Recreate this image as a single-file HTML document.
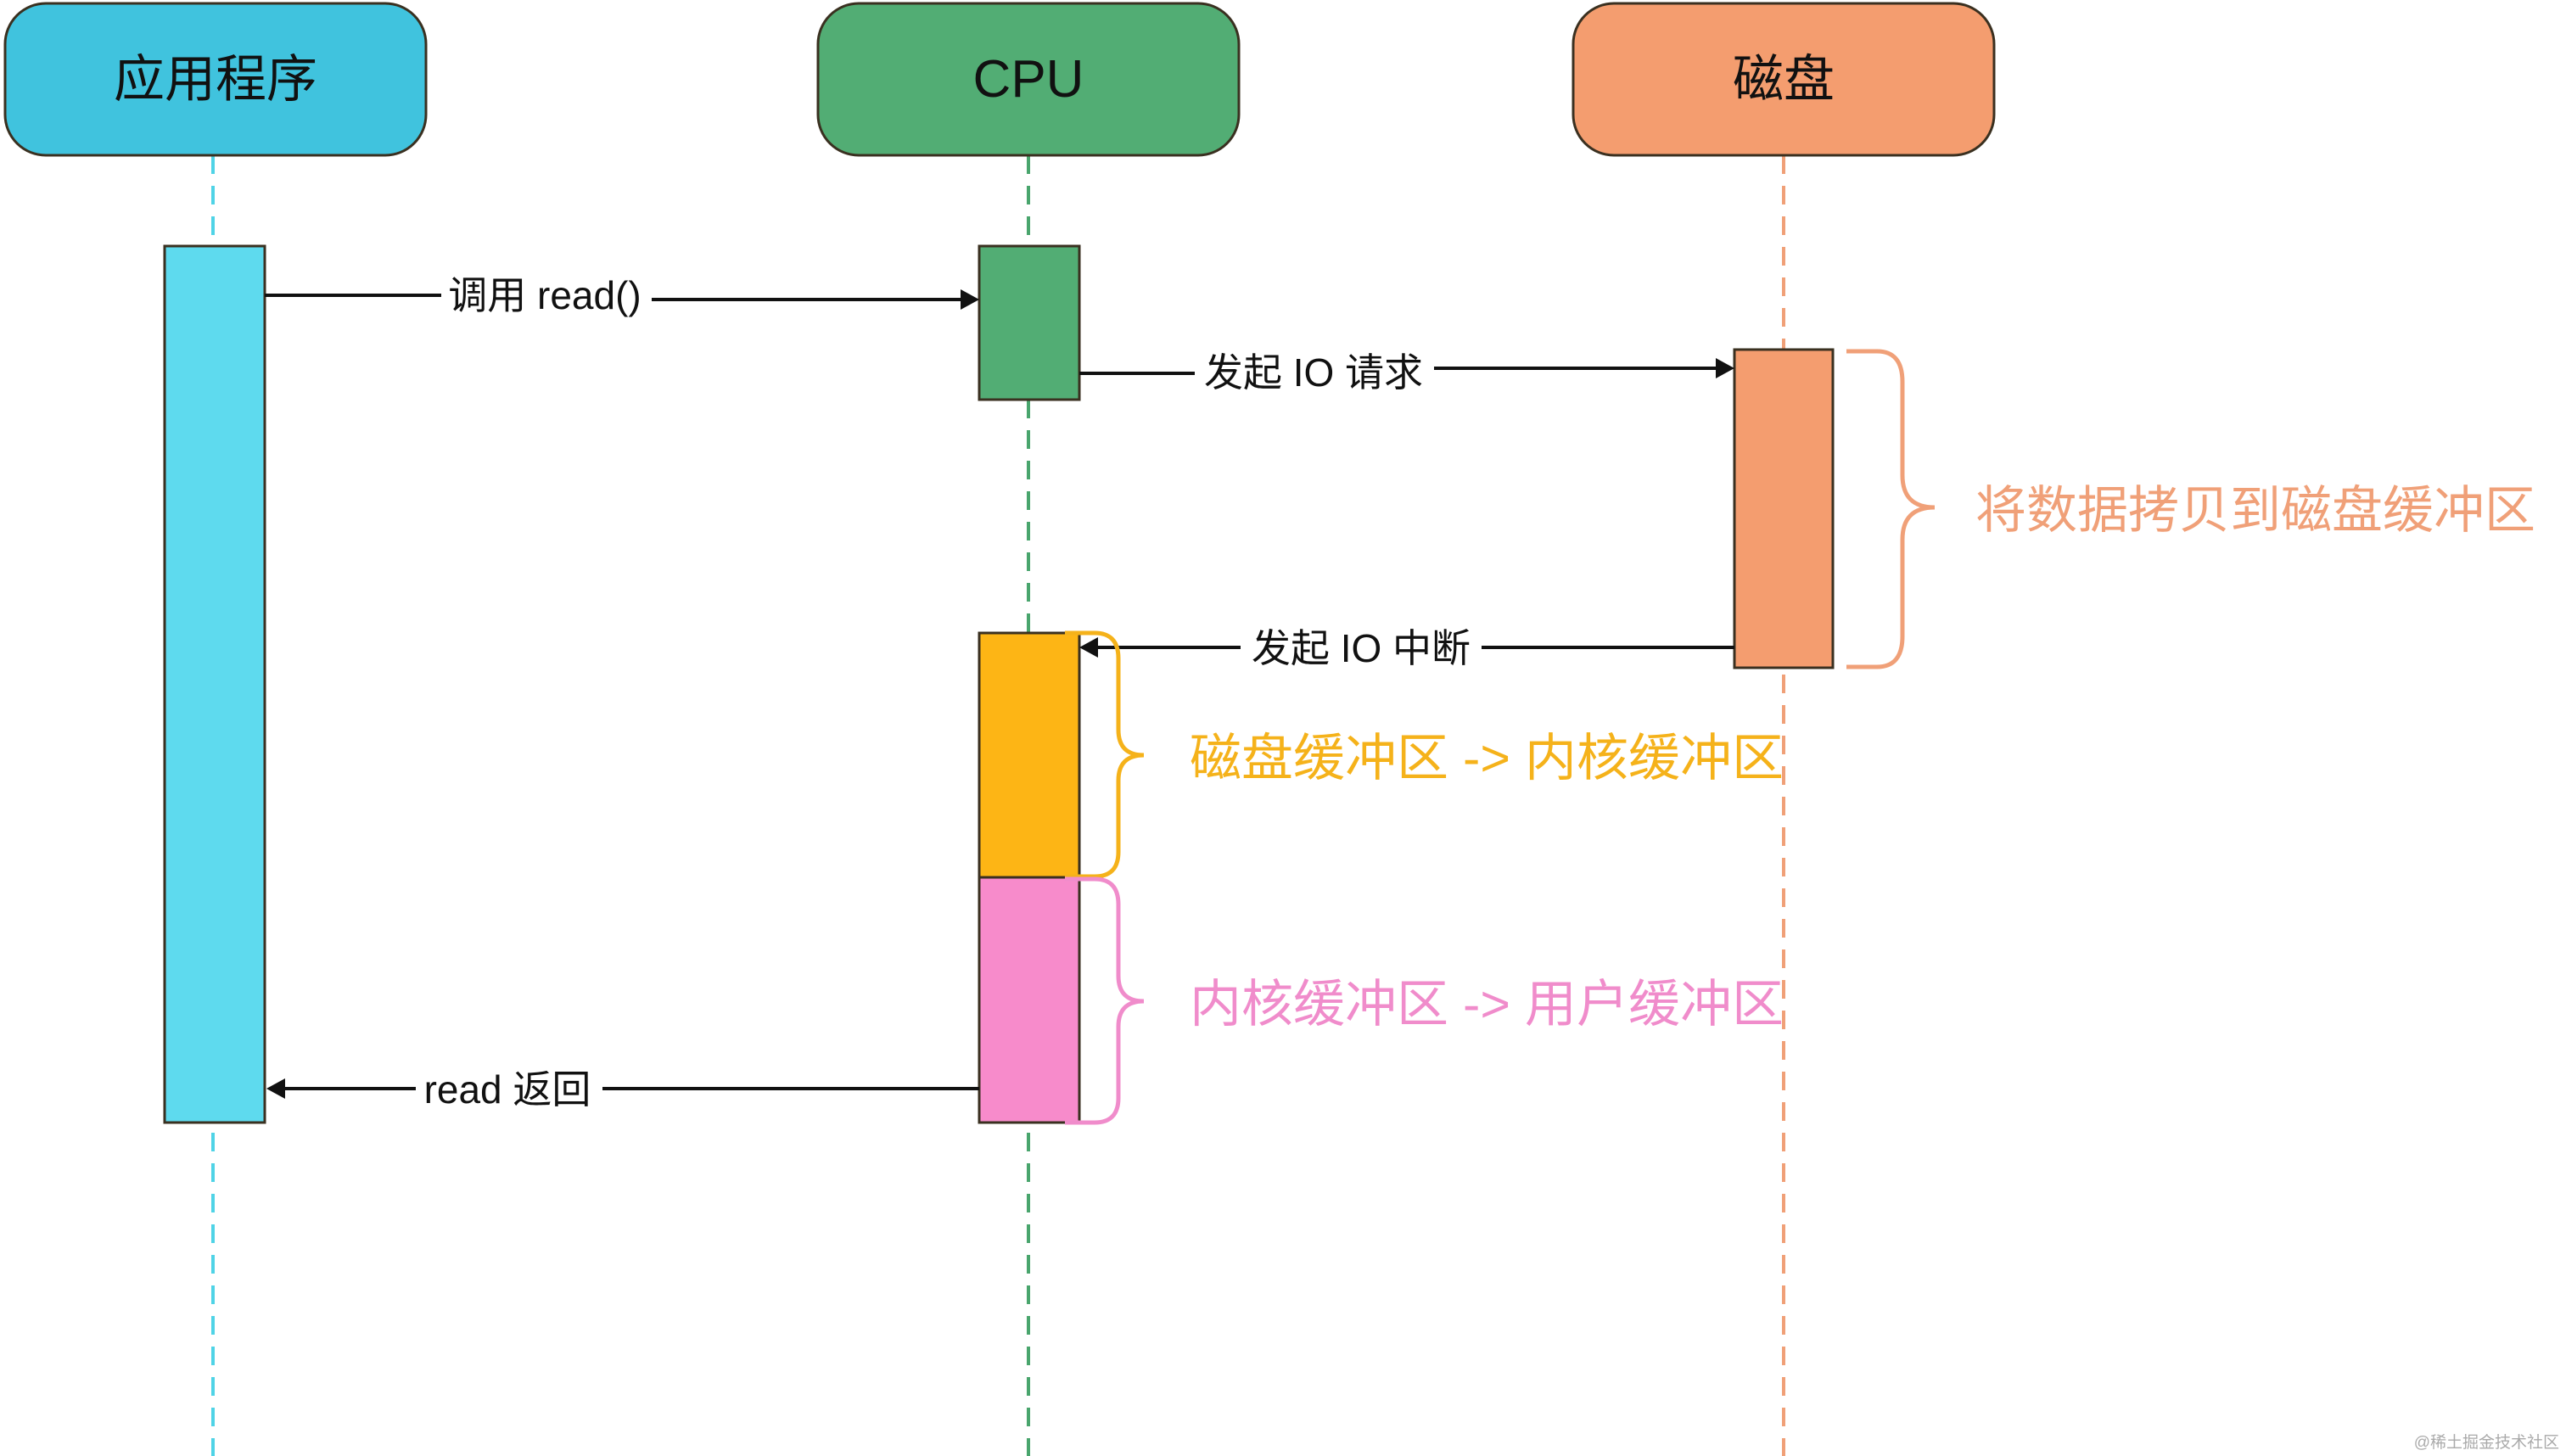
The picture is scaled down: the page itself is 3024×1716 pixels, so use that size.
<!DOCTYPE html>
<html><head><meta charset="utf-8"><style>
html,body{margin:0;padding:0;background:#fff;}
svg{display:block;}
text{font-family:"Liberation Sans","Noto Sans CJK SC",sans-serif;}
</style></head><body>
<svg width="3024" height="1716" viewBox="0 0 3024 1716" xmlns="http://www.w3.org/2000/svg">
<!-- lifelines -->
<line x1="251" y1="183" x2="251" y2="1716" stroke="#4FD3E6" stroke-width="4" stroke-dasharray="22,14"/>
<line x1="1212" y1="183" x2="1212" y2="1716" stroke="#49A56D" stroke-width="4" stroke-dasharray="22,14"/>
<line x1="2102" y1="183" x2="2102" y2="1716" stroke="#F0A078" stroke-width="4" stroke-dasharray="22,14"/>
<!-- headers -->
<rect x="6" y="4" width="496" height="179" rx="48" fill="#40C3DE" stroke="#3a3020" stroke-width="3"/>
<text x="254" y="114" font-size="60" text-anchor="middle" fill="#111">应用程序</text>
<rect x="964" y="4" width="496" height="179" rx="48" fill="#52AD74" stroke="#3a3020" stroke-width="3"/>
<text x="1212" y="114" font-size="62" text-anchor="middle" fill="#111">CPU</text>
<rect x="1854" y="4" width="496" height="179" rx="48" fill="#F49D6F" stroke="#3a3020" stroke-width="3"/>
<text x="2102" y="114" font-size="60" text-anchor="middle" fill="#111">磁盘</text>
<!-- activations -->
<rect x="194" y="290" width="118" height="1033" fill="#5EDAEE" stroke="#3a3020" stroke-width="3"/>
<rect x="1154" y="290" width="118" height="181" fill="#52AD74" stroke="#3a3020" stroke-width="3"/>
<rect x="2044" y="412" width="116" height="375" fill="#F49D6F" stroke="#3a3020" stroke-width="3"/>
<rect x="1154" y="746" width="118" height="288" fill="#FDB515" stroke="#3a3020" stroke-width="3"/>
<rect x="1154" y="1034" width="118" height="289" fill="#F78BCB" stroke="#3a3020" stroke-width="3"/>
<!-- arrows -->
<polyline points="312,348 520,348" fill="none" stroke="#111" stroke-width="4"/>
<polyline points="768,353 1134,353" fill="none" stroke="#111" stroke-width="4"/>
<polygon points="1154,353 1132,341 1132,365" fill="#111"/>
<text x="642" y="364" font-size="46" text-anchor="middle" fill="#111">调用 read()</text>

<polyline points="1272,440 1408,440" fill="none" stroke="#111" stroke-width="4"/>
<polyline points="1690,434 2024,434" fill="none" stroke="#111" stroke-width="4"/>
<polygon points="2044,434 2022,422 2022,446" fill="#111"/>
<text x="1548" y="455" font-size="46" text-anchor="middle" fill="#111">发起 IO 请求</text>

<polyline points="2044,763 1746,763" fill="none" stroke="#111" stroke-width="4"/>
<polyline points="1462,763 1292,763" fill="none" stroke="#111" stroke-width="4"/>
<polygon points="1272,763 1294,751 1294,775" fill="#111"/>
<text x="1604" y="780" font-size="46" text-anchor="middle" fill="#111">发起 IO 中断</text>

<polyline points="1154,1283 710,1283" fill="none" stroke="#111" stroke-width="4"/>
<polyline points="490,1283 334,1283" fill="none" stroke="#111" stroke-width="4"/>
<polygon points="314,1283 336,1271 336,1295" fill="#111"/>
<text x="598" y="1300" font-size="46" text-anchor="middle" fill="#111">read 返回</text>

<!-- braces -->
<path d="M2176,414 L2212,414 Q2242,414 2242,450 L2242,560 Q2242,598 2280,598 Q2242,598 2242,636 L2242,750 Q2242,786 2212,786 L2176,786" fill="none" stroke="#F0A078" stroke-width="5"/>
<text x="2328" y="622" font-size="60" fill="#F0A078">将数据拷贝到磁盘缓冲区</text>

<path d="M1255,746 L1290,746 Q1318,746 1318,776 L1318,860 Q1318,890 1348,890 Q1318,890 1318,920 L1318,1004 Q1318,1033 1290,1033 L1255,1033" fill="none" stroke="#F5B21A" stroke-width="5"/>
<text x="1402" y="914" font-size="60" fill="#F5B21A" textLength="700" lengthAdjust="spacingAndGlyphs">磁盘缓冲区 -&gt; 内核缓冲区</text>

<path d="M1255,1036 L1290,1036 Q1318,1036 1318,1066 L1318,1150 Q1318,1180 1348,1180 Q1318,1180 1318,1210 L1318,1294 Q1318,1323 1290,1323 L1255,1323" fill="none" stroke="#F08CCB" stroke-width="5"/>
<text x="1402" y="1204" font-size="60" fill="#F08CCB" textLength="700" lengthAdjust="spacingAndGlyphs">内核缓冲区 -&gt; 用户缓冲区</text>

<text x="3016" y="1706" font-size="19" text-anchor="end" fill="#aaa">@稀土掘金技术社区</text>
</svg>
</body></html>
